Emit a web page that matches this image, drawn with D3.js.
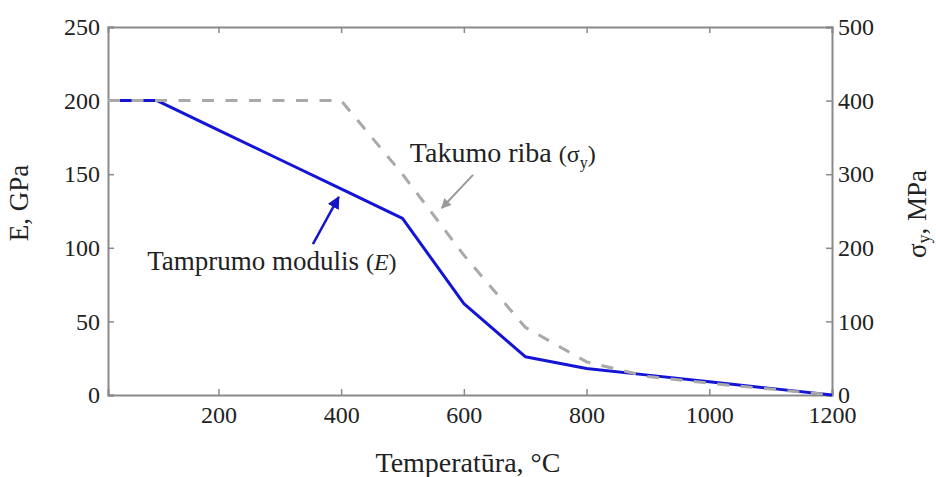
<!DOCTYPE html>
<html>
<head>
<meta charset="utf-8">
<script src="https://cdn.jsdelivr.net/npm/d3@7"></script>
<style>
  html, body { margin: 0; padding: 0; background: #fff; }
  svg { display: block; }
  svg text { font-family: "Liberation Serif", "Tinos", "Times New Roman", "DejaVu Serif", serif !important; fill: #222; }
</style>
</head>
<body>
<svg id="chart" width="936" height="477"></svg>
<script>
// Temperature points (°C)
const temperatures = [20, 100, 200, 300, 400, 500, 600, 700, 800, 900, 1000, 1100, 1200];
// Elastic modulus E, GPa (left axis)
const modulusE = [200, 200, 180, 160, 140, 120, 62, 26, 18, 13.5, 9, 4.5, 0];
// Yield strength σy, MPa (right axis)
const yieldStrength = [400, 400, 400, 400, 400, 300, 190, 92, 45, 25, 16, 8, 0];

const xTicks = [200, 400, 600, 800, 1000, 1200];
const leftTicks = [0, 50, 100, 150, 200, 250];
const rightTicks = [0, 100, 200, 300, 400, 500];

const margin = { left: 108, right: 104, top: 27, bottom: 82 };
const W = 936, H = 477;
const innerW = W - margin.left - margin.right;
const innerH = H - margin.top - margin.bottom;
const serif = "'Liberation Serif', Tinos, 'Times New Roman', 'DejaVu Serif', serif";

const svg = d3.select("#chart");
const g = svg.append("g").attr("transform", `translate(${margin.left},${margin.top})`);

const x = d3.scaleLinear().domain([20, 1200]).range([0, innerW]);
const yL = d3.scaleLinear().domain([0, 250]).range([innerH, 0]);
const yR = d3.scaleLinear().domain([0, 500]).range([innerH, 0]);

const axisColor = "#8a8a8a";
const tickFont = 24;

function styleAxis(sel) {
  sel.attr("font-family", serif);
  sel.select(".domain").attr("stroke", axisColor).attr("stroke-width", 2);
  sel.selectAll(".tick line").attr("stroke", axisColor).attr("stroke-width", 1.5);
  sel.selectAll(".tick text").attr("font-size", tickFont).attr("fill", "#222");
}

g.append("g").attr("transform", `translate(0,${innerH})`)
  .call(d3.axisBottom(x).tickValues(xTicks).tickSize(-6).tickPadding(11).tickFormat(d3.format("d")))
  .call(styleAxis);
g.append("g")
  .call(d3.axisTop(x).tickValues(xTicks).tickSize(-6).tickFormat(""))
  .call(styleAxis);
g.append("g")
  .call(d3.axisLeft(yL).tickValues(leftTicks).tickSize(-6).tickPadding(8).tickFormat(d3.format("d")))
  .call(styleAxis);
g.append("g").attr("transform", `translate(${innerW},0)`)
  .call(d3.axisRight(yR).tickValues(rightTicks).tickSize(-6).tickPadding(6).tickFormat(d3.format("d")))
  .call(styleAxis);

// Series lines
const lineE = d3.line().x((d, i) => x(temperatures[i])).y(d => yL(d));
const lineS = d3.line().x((d, i) => x(temperatures[i])).y(d => yR(d));

g.append("path").datum(modulusE)
  .attr("d", lineE).attr("fill", "none")
  .attr("stroke", "#1414d6").attr("stroke-width", 3).attr("stroke-linejoin", "round");

g.append("path").datum(yieldStrength)
  .attr("d", lineS).attr("fill", "none")
  .attr("stroke", "#a9a9a9").attr("stroke-width", 3)
  .attr("stroke-dasharray", "12,11.5");

// Arrow markers
const defs = svg.append("defs");
function marker(id, color) {
  defs.append("marker").attr("id", id)
    .attr("viewBox", "0 0 10 10").attr("refX", 9).attr("refY", 5)
    .attr("markerWidth", 5).attr("markerHeight", 5)
    .attr("markerUnits", "strokeWidth").attr("orient", "auto")
    .append("path").attr("d", "M0,0 L10,5 L0,10 z").attr("fill", color);
}
marker("arrBlue", "#1414c8");
marker("arrGray", "#9a9a9a");

// Annotation arrows (data coordinates)
g.append("line")
  .attr("x1", x(354)).attr("y1", yL(102.5))
  .attr("x2", x(396)).attr("y2", yL(134.5))
  .attr("stroke", "#1414c8").attr("stroke-width", 2.5)
  .attr("marker-end", "url(#arrBlue)");

g.append("line")
  .attr("x1", x(615)).attr("y1", yR(299))
  .attr("x2", x(564)).attr("y2", yR(254))
  .attr("stroke", "#9a9a9a").attr("stroke-width", 2)
  .attr("marker-end", "url(#arrGray)");

// Annotation labels
const annE = g.append("text").attr("x", x(84)).attr("y", yL(85)).attr("font-size", 27);
annE.append("tspan").text("Tamprumo modulis ");
annE.append("tspan").attr("font-size", 24).text("(");
annE.append("tspan").attr("font-size", 24).attr("font-style", "italic").text("E");
annE.append("tspan").attr("font-size", 24).text(")");

const annS = g.append("text").attr("x", x(512)).attr("y", yR(317)).attr("font-size", 28);
annS.append("tspan").text("Takumo riba ");
annS.append("tspan").attr("font-size", 24).text("(σ");
annS.append("tspan").attr("font-size", 16).attr("dy", 6).text("y");
annS.append("tspan").attr("font-size", 24).attr("dy", -6).text(")");

// Axis titles
svg.append("text")
  .attr("x", margin.left + innerW / 2 - 2).attr("y", 472)
  .attr("text-anchor", "middle").attr("font-size", 28)
  .text("Temperatūra, °C");

svg.append("text")
  .attr("transform", `translate(28,203) rotate(-90)`)
  .attr("text-anchor", "middle").attr("font-size", 27)
  .text("E, GPa");

const tR = svg.append("text")
  .attr("transform", `translate(926,214) rotate(-90)`)
  .attr("text-anchor", "middle").attr("font-size", 27);
tR.append("tspan").text("σ");
tR.append("tspan").attr("font-size", 18).attr("dy", 4).text("y");
tR.append("tspan").attr("dy", -4).text(", MPa");
</script>
</body>
</html>
